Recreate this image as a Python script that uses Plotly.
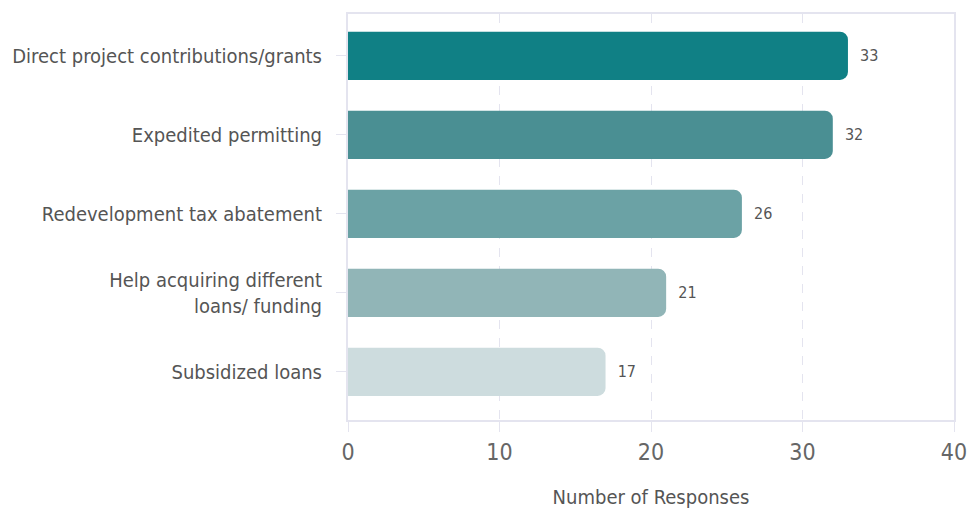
import plotly.graph_objects as go

categories = ["Direct project contributions/grants", "Expedited permitting",
              "Redevelopment tax abatement", "Help acquiring different<br>loans/ funding",
              "Subsidized loans"]
values = [33, 32, 26, 21, 17]
colors = ["#108085", "#4a8f93", "#6ba2a5", "#91b5b7", "#cddcde"]
x_ticks = [0, 10, 20, 30, 40]

FONT = "DejaVu Sans Condensed, Liberation Sans Narrow, sans-serif"
LINE = "#e4e4ef"

fig = go.Figure(go.Bar(
    y=categories, x=values, orientation="h",
    marker=dict(color=colors, cornerradius=8, line=dict(width=0)),
    width=0.61,
    text=["  " + str(v) for v in values], textposition="outside",
    textfont=dict(family=FONT, size=16, color="#555"),
    cliponaxis=False,
))

fig.update_layout(
    width=971, height=516,
    margin=dict(l=348, r=17, t=14, b=96),
    paper_bgcolor="white", plot_bgcolor="white",
    showlegend=False,
    font=dict(family=FONT, color="#555"),
    xaxis=dict(range=[0, 40], tickvals=x_ticks, showgrid=True, gridcolor=LINE, griddash="dash",
               showline=True, linecolor=LINE, linewidth=2, mirror=True,
               ticks="outside", ticklen=10, tickcolor=LINE,
               tickfont=dict(family=FONT, size=23, color="#666"),
               title=dict(text="Number of Responses", font=dict(family=FONT, size=20, color="#555"), standoff=26),
               zeroline=False, automargin=False),
    yaxis=dict(autorange=False, range=[4.61, -0.53], showgrid=False,
               showline=True, linecolor=LINE, linewidth=2, mirror=True,
               ticks="outside", ticklen=10, tickcolor=LINE,
               tickfont=dict(family=FONT, size=20, color="#555"),
               ticklabelstandoff=10, automargin=False),
)

fig.write_html("out.html")
